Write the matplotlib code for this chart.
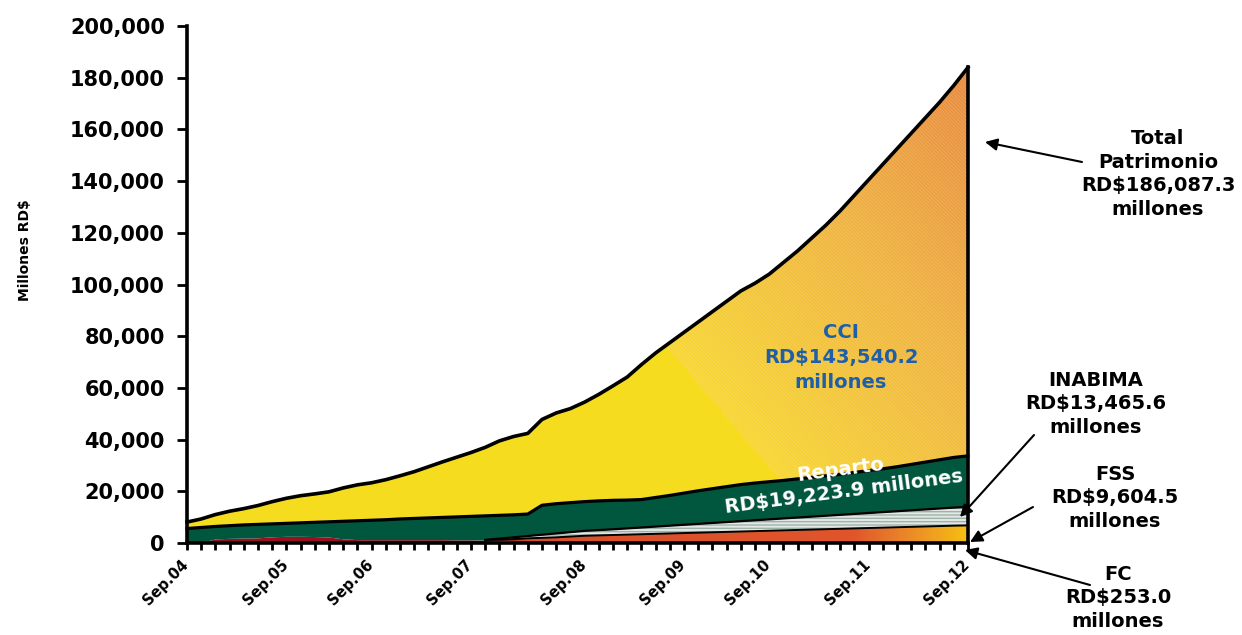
import numpy as np
import matplotlib.pyplot as plt
import matplotlib.transforms as mtransforms
from matplotlib.patches import Polygon
from matplotlib.colors import to_rgb, LinearSegmentedColormap

plt.rcParams['font.family'] = ['DejaVu Sans']
plt.rcParams['font.weight'] = 'bold'

W, H = 1242, 635

# one category per tick, only Septembers are labelled
n_points = 56
sep_labels = ['Sep.04', 'Sep.05', 'Sep.06', 'Sep.07', 'Sep.08',
              'Sep.09', 'Sep.10', 'Sep.11', 'Sep.12']
sep_pos = [0, 7, 13, 20, 28, 35, 41, 48, 55]

# values in thousands of millones RD$
fc = [0.0, 0.2, 1.6, 1.8, 1.9, 2.0, 2.4, 2.6, 2.6, 2.5,
      2.3, 1.6, 1.3, 1.3, 1.3, 1.3, 1.3, 1.3, 1.3, 1.2,
      1.2, 1.0, 0.7, 0.5, 0.4, 0.3, 0.3, 0.3, 0.3, 0.3,
      0.3, 0.3, 0.3, 0.3, 0.3, 0.3, 0.3, 0.3, 0.3, 0.3,
      0.3, 0.3, 0.3, 0.3, 0.3, 0.3, 0.3, 0.3, 0.3, 0.3,
      0.3, 0.3, 0.3, 0.3, 0.3, 0.25]
fss = [0, 0, 0, 0, 0, 0, 0, 0, 0, 0,
       0, 0, 0, 0, 0, 0, 0, 0, 0, 0,
       0, 0.2, 0.6, 1.0, 1.4, 1.7, 1.9, 2.2, 2.5, 2.65,
       2.8, 2.95, 3.1, 3.25, 3.4, 3.55, 3.7, 3.85, 4.0, 4.15,
       4.3, 4.45, 4.6, 4.75, 4.9, 5.05, 5.2, 5.35, 5.5, 5.65,
       5.8, 5.95, 6.1, 6.25, 6.4, 6.55]
inabima = [0, 0, 0, 0, 0, 0, 0, 0, 0, 0,
           0, 0, 0, 0, 0, 0, 0, 0, 0, 0,
           0, 0, 0.4, 0.7, 0.9, 1.2, 1.5, 1.7, 1.9, 2.05,
           2.2, 2.4, 2.6, 2.8, 3.0, 3.2, 3.4, 3.6, 3.8, 4.0,
           4.2, 4.4, 4.6, 4.8, 5.0, 5.2, 5.4, 5.6, 5.8, 6.0,
           6.2, 6.4, 6.6, 6.8, 7.0, 7.2]
reparto = [5.6, 5.8, 4.8, 4.9, 5.1, 5.2, 5.0, 5.0, 5.2, 5.5,
           5.9, 6.8, 7.3, 7.5, 7.7, 8.0, 8.2, 8.4, 8.6, 8.9,
           9.1, 9.3, 9.0, 8.7, 8.5, 11.4, 11.5, 11.4, 11.3, 11.3,
           11.2, 10.95, 10.8, 11.25, 11.7, 12.25, 12.8, 13.25, 13.7, 14.15,
           14.4, 14.55, 14.7, 14.95, 15.2, 15.45, 15.7, 16.05, 16.4, 16.75,
           17.2, 17.75, 18.3, 18.85, 19.4, 19.7]
cci = [2.5, 3.3, 4.6, 5.6, 6.3, 7.3, 8.6, 9.7, 10.5, 11.0,
       11.6, 12.9, 13.9, 14.5, 15.5, 16.7, 18.1, 19.8, 21.5, 23.1,
       24.7, 26.5, 28.8, 30.3, 31.2, 33.2, 35.1, 36.4, 38.5, 41.2,
       44.3, 47.6, 52.2, 55.9, 59.1, 62.2, 65.3, 68.5, 71.7, 74.9,
       77.3, 80.3, 84.3, 88.2, 92.6, 97.0, 101.9, 107.2, 112.5, 117.8,
       123.0, 128.1, 133.2, 138.3, 143.9, 150.3]

x = np.arange(n_points)
layers = np.vstack([fc, fss, inabima, reparto, cci])
tops = np.cumsum(layers, axis=0)
bottoms = np.vstack([np.zeros(n_points), tops[:-1]])

fig = plt.figure(figsize=(W / 100, H / 100), dpi=100)
ax_w, ax_h = 781, 517
ax = fig.add_axes([187 / W, 1 - 543 / H, ax_w / W, ax_h / H])


def poly(lower, upper):
    verts = np.vstack([np.column_stack([x, upper]),
                       np.column_stack([x[::-1], lower[::-1]])])
    p = Polygon(verts, closed=True, transform=ax.transData,
                facecolor='none', edgecolor='none')
    ax.add_patch(p)
    return p


# FC - dark red
ax.fill_between(x, bottoms[0], tops[0], color='#9B1020', lw=0, zorder=2)

# FSS - red-orange gradient to yellow at the end
p_fss = poly(bottoms[1], tops[1])
fss_cmap = LinearSegmentedColormap.from_list('fss', [
    (0.0, '#3a1a10'), (21 / 55, '#3a1a10'), (24 / 55, '#D8502A'),
    (47 / 55, '#E0552B'), (51 / 55, '#EB8A28'), (1.0, '#F6BE12')])
im = ax.imshow(np.linspace(0, 1, 561)[None, :], cmap=fss_cmap, aspect='auto',
               extent=[0, 55, 0, 200], origin='lower', zorder=2)
im.set_clip_path(p_fss)

# INABIMA - light grey, striped
ax.fill_between(x, bottoms[2], tops[2], facecolor='#E3E8E6', edgecolor='#9DB3AA',
                hatch='-----', lw=0, zorder=2)

# Reparto - dark green
ax.fill_between(x, bottoms[3], tops[3], color='#00573D', lw=0, zorder=2)

# CCI - yellow, then hatched gradient to orange toward the top right
p_cci = poly(bottoms[4], tops[4])
px, py = np.meshgrid(np.arange(ax_w) + 0.5, np.arange(ax_h) + 0.5)
d = ((px - 480) * 130 + (py - 196) * 110) / np.hypot(130, 110)
t = np.clip(d / 437, 0, 1)
cci_cmap = LinearSegmentedColormap.from_list('cci', ['#F7D52E', '#EFB13C', '#E6823A'])
grad = cci_cmap(t)[..., :3]
stripes = 0.5 + 0.5 * np.sin(2 * np.pi * (px + py) / 3.5)
grad = grad + (1 - grad) * 0.15 * stripes[..., None]
img = np.where((d < 0)[..., None], np.array(to_rgb('#F6DC1E')), grad)
im2 = ax.imshow(img, aspect='auto', extent=[0, 55, 0, 200], origin='lower',
                interpolation='nearest', zorder=2)
im2.set_clip_path(p_cci)

# outlines
ax.plot(x, tops[4], color='black', lw=2.6, zorder=5, clip_on=False, solid_joinstyle='round')
ax.plot(x, tops[3], color='black', lw=2.3, zorder=5, clip_on=False)
ax.plot(x[21:], tops[2][21:], color='black', lw=1.6, zorder=5, clip_on=False)
ax.plot(x[21:], tops[1][21:], color='black', lw=1.4, zorder=5, clip_on=False)
ax.plot([x[-1], x[-1]], [0, tops[4][-1]], color='black', lw=2.6, zorder=5, clip_on=False)

ax.set_xlim(0, 55)
ax.set_ylim(0, 200)
for s in ['top', 'right']:
    ax.spines[s].set_visible(False)
for s in ['left', 'bottom']:
    ax.spines[s].set_linewidth(2.6)
    ax.spines[s].set_zorder(6)

ax.set_yticks(np.arange(0, 201, 20))
ax.set_yticklabels([f'{v * 1000:,.0f}' for v in np.arange(0, 201, 20)],
                   fontsize=15, fontweight='bold')
ax.tick_params(axis='y', length=7, width=2, pad=9)

xlabels = [''] * n_points
for pos, lab in zip(sep_pos, sep_labels):
    xlabels[pos] = lab
ax.set_xticks(x)
ax.set_xticklabels(xlabels, rotation=45, ha='right', va='top',
                   rotation_mode='anchor', fontsize=10.5, fontweight='bold')
ax.tick_params(axis='x', length=5, width=2, pad=5)
shift = mtransforms.ScaledTranslation(-0.06, 0, fig.dpi_scale_trans)
for lab in ax.get_xticklabels():
    lab.set_transform(lab.get_transform() + shift)


def fpx(px_, py_):
    return px_ / W, 1 - py_ / H


fig.text(*fpx(25, 250), 'Millones RD$', rotation=90, ha='center', va='center',
         fontsize=10, fontweight='bold')

# in-chart labels
fig.text(*fpx(841, 357), 'CCI\nRD$143,540.2\nmillones', ha='center', va='center',
         color='#1F5FA8', fontsize=14, fontweight='bold', linespacing=1.4)
fig.text(*fpx(842, 481), 'Reparto\nRD$19,223.9 millones', ha='center', va='center',
         color='white', fontsize=14, fontweight='bold', linespacing=1.2,
         rotation=7.5, rotation_mode='anchor', zorder=7)

# side annotations with arrows
notes = [
    ('Total\nPatrimonio\nRD$186,087.3\nmillones', (1158, 174), (1082, 162), (985, 142)),
    ('INABIMA\nRD$13,465.6\nmillones', (1096, 404), (1034, 435), (960, 517)),
    ('FSS\nRD$9,604.5\nmillones', (1115, 498), (1033, 507), (970, 542)),
    ('FC\nRD$253.0\nmillones', (1118, 598), (1090, 585), (965, 550)),
]
for txt, tpos, tail, head in notes:
    fig.text(*fpx(*tpos), txt, ha='center', va='center', fontsize=14,
             fontweight='bold', linespacing=1.3)
    ax.annotate('', xy=fpx(*head), xycoords='figure fraction',
                xytext=fpx(*tail), textcoords='figure fraction',
                arrowprops=dict(arrowstyle='-|>', color='black', lw=1.5,
                                mutation_scale=18, shrinkA=0, shrinkB=0),
                annotation_clip=False, zorder=8)

fig.savefig('out.png', dpi=100)
